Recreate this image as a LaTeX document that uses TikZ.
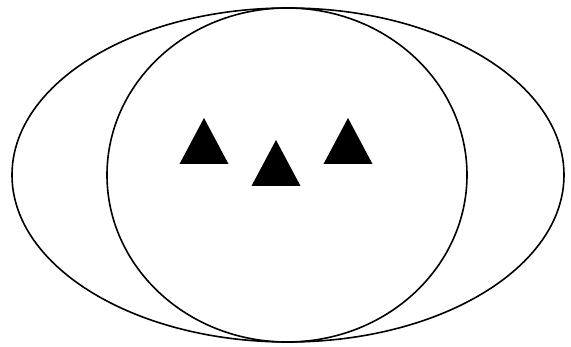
\documentclass[tikz,border=0pt]{standalone}
\usepackage{tikz}
\begin{document}
\begin{tikzpicture}[x=1pt, y=-1pt, line width=1.6pt]
  \useasboundingbox (0,0) rectangle (571,347);
  % Outer ellipse
  \draw (288,175) ellipse [x radius=276, y radius=167];
  % Inner circle
  \draw (287,175) ellipse [x radius=180, y radius=167];
  % Three triangles (apex points)
  \foreach \px/\py in {204/118, 276/140, 348/118}
    \fill (\px,\py) -- ++(24.5,46) -- ++(-49,0) -- cycle;
\end{tikzpicture}
\end{document}
